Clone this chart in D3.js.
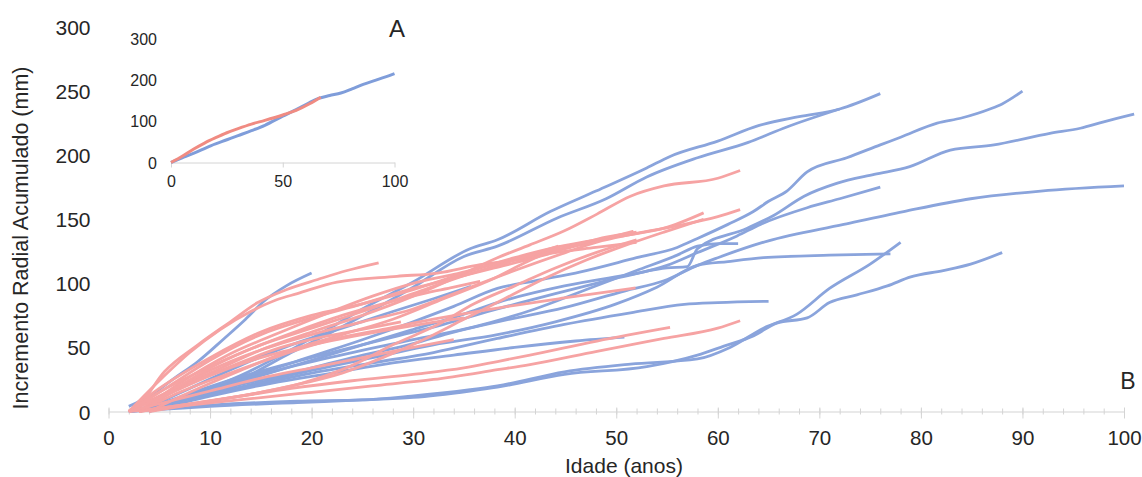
<!DOCTYPE html>
<html>
<head>
<meta charset="utf-8">
<script src="https://cdn.jsdelivr.net/npm/d3@7"></script>
<style>
  body { margin: 0; background: #fff; }
  text { font-family: "Liberation Sans", Arial, sans-serif; fill: #262626; }
</style>
</head>
<body>
<div id="vis"></div>
<script>
const width = 1142;
const height = 477;

// tick values
const xTicks = [0, 10, 20, 30, 40, 50, 60, 70, 80, 90, 100];
const xMinorTicks = d3.range(0, 101, 2);
const yTicks = [0, 50, 100, 150, 200, 250, 300];
const insetXTicks = [0, 50, 100];
const insetYTicks = [0, 100, 200, 300];

// cumulative radial increment per tree: [age (years), mm]
const blueTrees = [
  [[3,0],[6,7],[9,15],[13,28],[18.6,51],[22,66],[25,80],[30,101],[35.6,127],[38.3,134],[43.5,156],[48,172],[53,190],[55.3,199],[60,211],[64,223],[68,230],[72,236],[76,248]],
  [[3,0],[6,6],[9,13],[13,25],[18,46],[22,62],[26,79],[30,97],[35,121],[38.3,129],[44.2,151],[49,166],[53,183],[58,198],[63,210],[66.8,222],[72,236]],
  [[2,0],[6,8],[10,18],[15,30],[20,43],[25,56],[30,70],[34,82],[38.3,96],[42,102],[46.5,109],[52,120],[56,128],[58,135],[61,146],[63.5,156],[65,164],[66.8,172],[68.8,187],[72.7,198],[76,208],[78,214],[81.6,225],[84,229],[86.8,236],[88,240],[90,250]],
  [[2,0],[6,6],[10,16],[15,28],[20,40],[25,52],[30,64],[35,76],[38.3,85],[44.9,98],[51.4,107],[55,112],[57,113],[58,127],[62.9,143],[65.5,153],[68.5,168],[71.7,178],[75.4,185],[78.9,191],[82.9,204],[87.2,208],[92.7,217],[95.7,221],[98,226],[101,232]],
  [[3,0],[8,14],[13,27],[18,38],[23,48],[28,58],[33,68],[38.3,80],[44,92],[50,104],[55,114],[58,124],[61.9,137],[64.2,146],[68.8,159],[72,166],[76,175]],
  [[4,0],[8,12],[13,24],[18,35],[24,46],[30,56],[36,66],[42,80],[47,95],[52,110],[56,122],[58,129],[60,131],[62,131]],
  [[2,0],[7,9],[12,19],[18,30],[24,42],[30,53],[34,62],[38.3,70],[44.9,81],[50.8,94],[54.7,102],[58,114],[60,120],[64.9,133],[72.4,146],[78.3,156],[84.9,166],[91.8,172],[100,176]],
  [[3,0],[8,10],[14,21],[20,32],[26,42],[32,52],[38.3,60],[44,70],[50,84],[54,97],[58,114],[61,117],[64.5,120],[71,122],[77,123]],
  [[2,0],[6,3],[10,5],[18.6,8],[25,9],[29.8,12],[35.6,17],[38.3,20],[44.9,31],[51.4,37],[58,41],[61.2,50],[64.5,65],[67.8,76],[71,96],[75,115],[78,132]],
  [[2,0],[6,2],[10,4],[18.6,7],[25,9],[30,11],[35.6,16],[38.3,19],[44.9,29],[53,35],[58,44],[60.6,51],[63.5,59],[65.8,69],[68.8,73],[71,85],[73.7,91],[76.7,98],[79,105],[82.2,110],[84.9,115],[88,124]],
  [[3,0],[8,10],[14,20],[20,30],[26,38],[32,46],[38.3,57],[44.9,68],[51.4,77],[56.7,83.6],[60,85],[65,86]],
  [[2,4],[4.2,13],[6.5,26],[8.8,39],[11.4,57],[13.5,72],[15.3,86],[17.5,98],[20,108]],
  [[3,0],[8,18],[13,36],[18,52],[23,65],[28,78],[32,88],[35.7,97.6]],
  [[4,0],[10,12],[16,22],[22,30],[28,38],[34,44],[40,50],[46,55],[50.8,58]]
];

const redTrees = [
  [[2,0],[3,5],[5.5,31],[8.8,52],[12,70],[14.7,85],[17.5,95],[20.6,103],[23.5,110],[26.6,116]],
  [[2,0],[5,24],[8,46],[11,64],[14,78],[16.5,87],[18.6,92],[22.5,101],[28.4,105.5],[32.4,108],[36.6,114.6],[40.3,118.5],[44,124],[48,128],[52,132]],
  [[2,0],[5,12],[10,30],[15,48],[20,62],[25,75],[30,90],[34,104],[38.3,120],[41.5,130],[44.9,141],[48.1,154],[51.4,168],[54.7,176],[60,182],[62.2,188]],
  [[2,0],[5,18],[10,42],[15,62],[20,75],[25,84],[30,95],[35,108],[40,120],[44,128],[48,134],[51.4,138],[54.7,143],[58.6,155]],
  [[3,0],[6,15],[10,32],[15,48],[20,60],[25,70],[30,80],[35,95],[40,110],[45,124],[48,132],[52,139],[55.7,144.5],[60,152],[62.2,157.5]],
  [[2,0],[6,20],[10,40],[15,60],[20,73],[25,84],[30,96],[34,104],[38,112],[42,120],[45,127],[48,133],[51.7,140.6]],
  [[3,0],[7,22],[12,45],[17,62],[22,78],[26,90],[30,100],[34,107],[38,115],[42,122],[46,130],[49,136],[52,140]],
  [[2,0],[5,15],[10,35],[15,52],[20,65],[25,78],[30,92],[35,106],[40,118],[44.3,129]],
  [[4,0],[8,15],[13,32],[18,48],[23,60],[28,72],[33,88],[38,104],[41,116],[44.5,129]],
  [[3,0],[7,15],[12,30],[17,44],[22,56],[27,64],[32,72],[38.3,80.7],[44.9,88.6],[51.9,96.4]],
  [[3,0],[8,6],[13,12],[18,18],[24,24],[30,29],[35,34],[38.3,39],[41.5,44],[48.1,55],[55.3,65.6]],
  [[2,0],[8,5],[14,10],[20,15],[26,20],[32,25],[38.3,32.6],[41.5,36.6],[48.1,47],[54.7,57],[60,65],[62.2,70.8]],
  [[3,0],[7,20],[11,38],[15,52],[19,64],[23,75],[27,84],[31,92],[34,97],[36.6,101.6]],
  [[3,0],[7,18],[12,35],[17,50],[21,58],[25,64],[28.8,70]],
  [[2,0],[6,14],[10,28],[15,42],[20,52],[25,60],[30,67],[35,73]],
  [[2,0],[6,8],[10,16],[15,26],[20,34],[25,42],[30,50],[34,56]],
  [[4,0],[10,8],[15,15],[19,22],[24,36],[28,52],[32.5,68],[36,84],[40,98],[44,112],[48,124],[52,134]],
  [[3,0],[8,6],[13,12],[18,20],[23,30],[27,42],[31,56],[35,72],[39,88],[43,104],[47,118],[51,130],[54.7,140],[58.6,150]]
];

// inset A: mean curves
const insetRed = [[0,0],[5,15],[10,32],[15,47],[20,60],[25,72],[30,82],[36,93],[42,102],[50,115],[56,126],[62,142],[67,158]];
const insetBlue = [[0,0],[5,11],[10,22],[18,41],[25,55],[30,65],[36,77],[42,90],[50,112],[56,128],[62,145],[66,155],[71,162],[76,168],[81,178],[86,189],[91,198],[96,207],[100,215]];

const blueColor = '#8aa4dc';
const redColor = '#f6a3a3';
const axisColor = '#d4d4d4';

let vis = d3.select('#vis')
            .append('svg')
            .attr('width', width)
            .attr('height', height);

// main scales
const x = d3.scaleLinear().domain([0, 100]).range([108.5, 1124]);
const y = d3.scaleLinear().domain([0, 300]).range([411.5, 27]);

const line = d3.line()
               .x(d => x(d[0]))
               .y(d => y(d[1]))
               .curve(d3.curveMonotoneX);

// minor ticks on x axis
const xMinor = vis.append('g')
                  .attr('transform', `translate(0,${y(0)})`)
                  .call(d3.axisBottom(x).tickValues(xMinorTicks).tickSize(3).tickFormat(''));
xMinor.select('.domain').remove();
xMinor.selectAll('line').attr('y1', -3).attr('stroke', axisColor);

// major ticks and labels
const xAxis = vis.append('g')
                 .attr('transform', `translate(0,${y(0)})`)
                 .call(d3.axisBottom(x).tickValues(xTicks).tickSize(7).tickSizeOuter(0));
xAxis.select('.domain').attr('stroke', axisColor).attr('stroke-width', 1.2);
xAxis.selectAll('line').attr('y1', -4).attr('stroke', axisColor);
xAxis.selectAll('text')
     .attr('y', 33)
     .attr('dy', 0)
     .style('font-size', '20.5px')
     .attr('fill', '#262626');

// y labels, no axis line
const yAxis = vis.append('g')
                 .attr('transform', `translate(${x(0)},0)`)
                 .call(d3.axisLeft(y).tickValues(yTicks).tickSize(0).tickPadding(18));
yAxis.select('.domain').remove();
yAxis.selectAll('text')
     .attr('dy', '0.36em')
     .style('font-size', '21px')
     .attr('fill', '#262626');

// tree curves
vis.append('g')
   .selectAll('path')
   .data(blueTrees)
   .enter()
   .append('path')
   .attr('d', line)
   .attr('fill', 'none')
   .attr('stroke', blueColor)
   .attr('stroke-width', 2.8)
   .attr('stroke-linejoin', 'round');

vis.append('g')
   .selectAll('path')
   .data(redTrees)
   .enter()
   .append('path')
   .attr('d', line)
   .attr('fill', 'none')
   .attr('stroke', redColor)
   .attr('stroke-width', 2.8)
   .attr('stroke-linejoin', 'round');

// axis titles
vis.append('text')
   .attr('x', 624)
   .attr('y', 473)
   .attr('text-anchor', 'middle')
   .style('font-size', '21px')
   .text('Idade (anos)');

vis.append('text')
   .attr('transform', 'translate(28,238) rotate(-90)')
   .attr('text-anchor', 'middle')
   .style('font-size', '21.5px')
   .text('Incremento Radial Acumulado (mm)');

vis.append('text')
   .attr('x', 1128)
   .attr('y', 389)
   .attr('text-anchor', 'middle')
   .style('font-size', '23px')
   .text('B');

// inset A
const ix = d3.scaleLinear().domain([0, 100]).range([171, 394.5]);
const iy = d3.scaleLinear().domain([0, 300]).range([162.5, 38.5]);

const insetLine = d3.line()
                    .x(d => ix(d[0]))
                    .y(d => iy(d[1]))
                    .curve(d3.curveMonotoneX);

const ixAxis = vis.append('g')
                  .attr('transform', `translate(0,${iy(0)})`)
                  .call(d3.axisBottom(ix).tickValues(insetXTicks).tickSize(5).tickSizeOuter(0).tickPadding(8));
ixAxis.select('.domain').attr('stroke', axisColor);
ixAxis.selectAll('line').attr('stroke', axisColor);
ixAxis.selectAll('text')
      .style('font-size', '16px')
      .attr('fill', '#262626');

const iyAxis = vis.append('g')
                  .attr('transform', `translate(${ix(0)},0)`)
                  .call(d3.axisLeft(iy).tickValues(insetYTicks).tickSize(0).tickPadding(14));
iyAxis.select('.domain').remove();
iyAxis.selectAll('text')
      .attr('dy', '0.36em')
      .style('font-size', '16px')
      .attr('fill', '#262626');

vis.append('path')
   .datum(insetBlue)
   .attr('d', insetLine)
   .attr('fill', 'none')
   .attr('stroke', '#7f9dda')
   .attr('stroke-width', 3);

vis.append('path')
   .datum(insetRed)
   .attr('d', insetLine)
   .attr('fill', 'none')
   .attr('stroke', '#f08b82')
   .attr('stroke-width', 3);

vis.append('text')
   .attr('x', 397)
   .attr('y', 37)
   .attr('text-anchor', 'middle')
   .style('font-size', '24px')
   .text('A');
</script>
</body>
</html>
